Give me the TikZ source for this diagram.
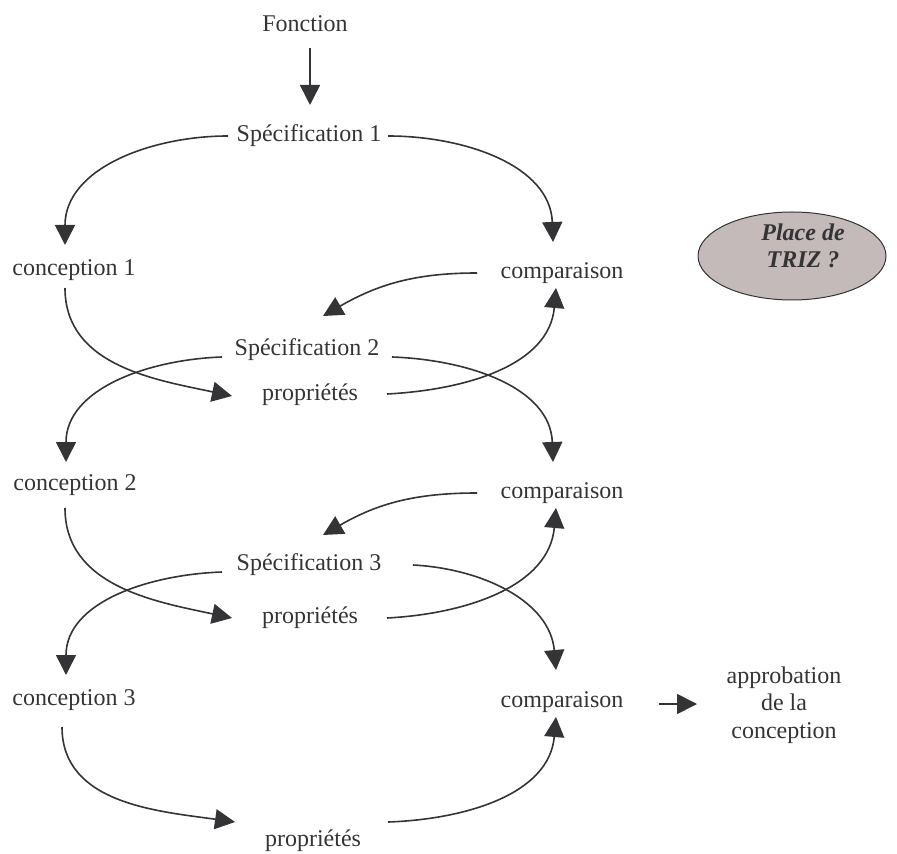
\documentclass[tikz,border=0pt]{standalone}
\usepackage{fontspec}
\setmainfont{Liberation Serif}
\usetikzlibrary{arrows.meta,shapes.geometric}

\definecolor{inkgray}{HTML}{343437}
\definecolor{trizfill}{HTML}{C3BAB9}

\begin{document}
\begin{tikzpicture}[x=0.5pt,y=-0.5pt,
    every node/.style={font=\fontsize{12}{13.8}\selectfont,text=inkgray},
    flow/.style={draw=inkgray,line width=0.8pt,
        -{Triangle[length=10pt,width=10pt]}},
    trizshape/.style={ellipse,draw=inkgray,line width=0.5pt,fill=trizfill,
        minimum width=94pt,minimum height=44pt,inner sep=0pt},
    trizlabel/.style={align=center,
        font=\fontsize{12}{13.5}\selectfont\bfseries\itshape}]

    \useasboundingbox (0,0) rectangle (897,854);

    % Steps
    \node (fonction) at (305,24) {Fonction};
    \node (spec1) at (309,136) {Spécification 1};
    \node (conc1) at (74,270) {conception 1};
    \node (comp1) at (562,273) {comparaison};
    \node (spec2) at (307,350) {Spécification 2};
    \node (prop1) at (310,395) {propriétés};
    \node (conc2) at (75,485) {conception 2};
    \node (comp2) at (562,493) {comparaison};
    \node (spec3) at (309,565) {Spécification 3};
    \node (prop2) at (310,618) {propriétés};
    \node (conc3) at (74,700) {conception 3};
    \node (comp3) at (562,702) {comparaison};
    \node[align=center] (appro) at (784,705) {approbation\\de la\\conception};
    \node (prop3) at (313,841) {propriétés};

    % TRIZ bubble
    \node[trizshape] (trizbg) at (792,256) {};
    \node[trizlabel] (triz) at (803,246) {Place de\\TRIZ ?};

    % Loop 1
    \draw[flow] ([shift={(2.5pt,-12pt)}]fonction.center)
        -- ([shift={(0.5pt,15.5pt)}]spec1.center);
    \draw[flow] ([shift={(-40.5pt,0pt)}]spec1.center)
        to[out=180,in=90] ([shift={(-4.5pt,12.5pt)}]conc1.center);
    \draw[flow] ([shift={(39.5pt,0pt)}]spec1.center)
        to[out=0,in=92] ([shift={(-4.5pt,15.5pt)}]comp1.center);
    \draw[flow] ([shift={(-42.5pt,0pt)}]comp1.center)
        to[out=180,in=30] ([shift={(8pt,17pt)}]spec2.center);
    \draw[flow] ([shift={(-4.5pt,-9pt)}]conc1.center)
        to[out=-90,in=168] ([shift={(-39pt,-0.5pt)}]prop1.center);
    \draw[flow] ([shift={(38.5pt,0.5pt)}]prop1.center)
        to[out=3,in=-95] ([shift={(-3pt,-7.5pt)}]comp1.center);

    % Loop 2
    \draw[flow] ([shift={(-42.5pt,-3.5pt)}]spec2.center)
        to[out=182,in=90] ([shift={(-4.5pt,11.5pt)}]conc2.center);
    \draw[flow] ([shift={(42.5pt,-3.5pt)}]spec2.center)
        to[out=-2,in=92] ([shift={(-4.5pt,15.5pt)}]comp2.center);
    \draw[flow] ([shift={(-42.5pt,0pt)}]comp2.center)
        to[out=180,in=30] ([shift={(7pt,15pt)}]spec3.center);
    \draw[flow] ([shift={(-5pt,-11.5pt)}]conc2.center)
        to[out=-90,in=168] ([shift={(-39pt,0pt)}]prop2.center);
    \draw[flow] ([shift={(38.5pt,0pt)}]prop2.center)
        to[out=3,in=-95] ([shift={(-3pt,-7.5pt)}]comp2.center);

    % Loop 3
    \draw[flow] ([shift={(-43.5pt,-3.5pt)}]spec3.center)
        to[out=182,in=90] ([shift={(-4pt,12.5pt)}]conc3.center);
    \draw[flow] ([shift={(52pt,0pt)}]spec3.center)
        to[out=-3,in=95] ([shift={(-3pt,16pt)}]comp3.center);
    \draw[flow] ([shift={(-6pt,-13.5pt)}]conc3.center)
        to[out=-90,in=172] ([shift={(-39pt,9.5pt)}]prop3.center);
    \draw[flow] ([shift={(37.5pt,9.5pt)}]prop3.center)
        to[out=2,in=-95] ([shift={(-3pt,-7.5pt)}]comp3.center);

    % Result
    \draw[flow] ([shift={(48.5pt,-1pt)}]comp3.center)
        -- ([shift={(-43.5pt,0.5pt)}]appro.center);

\end{tikzpicture}
\end{document}
